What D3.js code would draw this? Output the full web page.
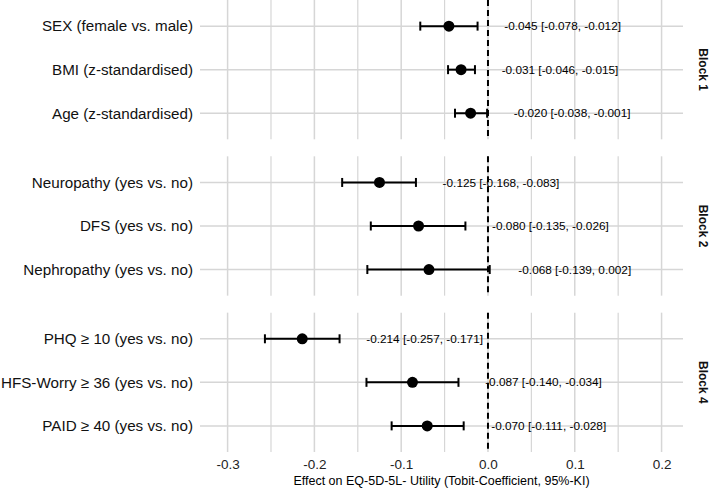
<!DOCTYPE html>
<html>
<head>
<meta charset="utf-8">
<script src="https://cdn.jsdelivr.net/npm/d3@7"></script>
<style>
  html, body { margin: 0; padding: 0; background: #fff; }
  svg { display: block; font-family: "Liberation Sans", Arial, Helvetica, sans-serif; }
</style>
</head>
<body>
<svg id="chart" width="709" height="488"></svg>
<script>
// ---- data ----
const blocks = ["Block 1", "Block 2", "Block 4"];
const rowBlock = ["Block 1", "Block 1", "Block 1", "Block 2", "Block 2", "Block 2", "Block 4", "Block 4", "Block 4"];
const rowLabels = [
  "SEX (female vs. male)", "BMI (z-standardised)", "Age (z-standardised)",
  "Neuropathy (yes vs. no)", "DFS (yes vs. no)", "Nephropathy (yes vs. no)",
  "PHQ \u2265 10 (yes vs. no)", "HFS-Worry \u2265 36 (yes vs. no)", "PAID \u2265 40 (yes vs. no)"
];
const estimates = [-0.045, -0.031, -0.020, -0.125, -0.080, -0.068, -0.214, -0.087, -0.070];
const lowerCI   = [-0.078, -0.046, -0.038, -0.168, -0.135, -0.139, -0.257, -0.140, -0.111];
const upperCI   = [-0.012, -0.015, -0.001, -0.083, -0.026,  0.002, -0.171, -0.034, -0.028];
const xTicks = [-0.3, -0.2, -0.1, 0.0, 0.1, 0.2];
const xMinorTicks = [-0.25, -0.15, -0.05, 0.05, 0.15];
const xDomain = [-0.3318, 0.2247];
const xTitle = "Effect on EQ-5D-5L- Utility (Tobit-Coefficient, 95%-KI)";
const labelOffset = 0.098;

const rows = rowLabels.map((l, i) => ({
  label: l, block: rowBlock[i], est: estimates[i], lo: lowerCI[i], hi: upperCI[i]
}));

// ---- layout ----
const svg = d3.select("#chart");
const mLeft = 200, mRight = 683, mTop = 0, mBottom = 452, gap = 17;
const panelH = (mBottom - mTop - gap * (blocks.length - 1)) / blocks.length;
const gridColor = "#d6d6d6";

const x = d3.scaleLinear().domain(xDomain).range([mLeft, mRight]);

blocks.forEach((b, bi) => {
  const py0 = mTop + bi * (panelH + gap);
  const py1 = py0 + panelH;
  const data = rows.filter(r => r.block === b);
  const y = d3.scalePoint().domain(data.map(d => d.label)).range([py0, py1]).padding(0.6);
  const g = svg.append("g");

  g.selectAll(".vmin").data(xMinorTicks).join("line")
    .attr("x1", d => x(d)).attr("x2", d => x(d)).attr("y1", py0).attr("y2", py1)
    .attr("stroke", gridColor).attr("stroke-width", 1.2);
  g.selectAll(".vmaj").data(xTicks).join("line")
    .attr("x1", d => x(d)).attr("x2", d => x(d)).attr("y1", py0).attr("y2", py1)
    .attr("stroke", gridColor).attr("stroke-width", 1.5);
  g.selectAll(".hmaj").data(data).join("line")
    .attr("x1", mLeft).attr("x2", mRight).attr("y1", d => y(d.label)).attr("y2", d => y(d.label))
    .attr("stroke", gridColor).attr("stroke-width", 1.5);

  g.selectAll(".ylab").data(data).join("text")
    .attr("x", mLeft - 7).attr("y", d => y(d.label)).attr("dy", "0.35em")
    .attr("text-anchor", "end").attr("font-size", 15.2).attr("fill", "#111")
    .text(d => d.label);

  g.append("line")
    .attr("x1", x(0)).attr("x2", x(0)).attr("y1", py0).attr("y2", py1)
    .attr("stroke", "#000").attr("stroke-width", 2).attr("stroke-dasharray", "6,4");

  g.selectAll(".eb").data(data).join("line")
    .attr("x1", d => x(d.lo)).attr("x2", d => x(d.hi))
    .attr("y1", d => y(d.label)).attr("y2", d => y(d.label))
    .attr("stroke", "#000").attr("stroke-width", 2);
  ["lo", "hi"].forEach(k => {
    g.selectAll(".cap" + k).data(data).join("line")
      .attr("x1", d => x(d[k])).attr("x2", d => x(d[k]))
      .attr("y1", d => y(d.label) - 4.5).attr("y2", d => y(d.label) + 4.5)
      .attr("stroke", "#000").attr("stroke-width", 2);
  });
  g.selectAll(".pt").data(data).join("circle")
    .attr("cx", d => x(d.est)).attr("cy", d => y(d.label)).attr("r", 5.5)
    .attr("fill", "#000");
  g.selectAll(".vl").data(data).join("text")
    .attr("x", d => x(d.hi + labelOffset)).attr("y", d => y(d.label)).attr("dy", "0.35em")
    .attr("text-anchor", "middle").attr("font-size", 11.8).attr("fill", "#000")
    .text(d => `${d.est.toFixed(3)} [${d.lo.toFixed(3)}, ${d.hi.toFixed(3)}]`);

  svg.append("text")
    .attr("transform", `translate(699, ${(py0 + py1) / 2}) rotate(90)`)
    .attr("text-anchor", "middle").attr("font-size", 12).attr("font-weight", "bold")
    .attr("fill", "#111")
    .text(b);
});

const xAxis = d3.axisBottom(x).tickValues(xTicks).tickFormat(d => d.toFixed(1)).tickSize(0).tickPadding(7);
const ax = svg.append("g").attr("transform", `translate(0, ${mBottom})`).call(xAxis);
ax.select(".domain").remove();
ax.selectAll("text").attr("font-size", 13.5).attr("fill", "#222").attr("font-family", null);

svg.append("text")
  .attr("x", (mLeft + mRight) / 2).attr("y", 485)
  .attr("text-anchor", "middle").attr("font-size", 12.5).attr("fill", "#000")
  .text(xTitle);
</script>
</body>
</html>
